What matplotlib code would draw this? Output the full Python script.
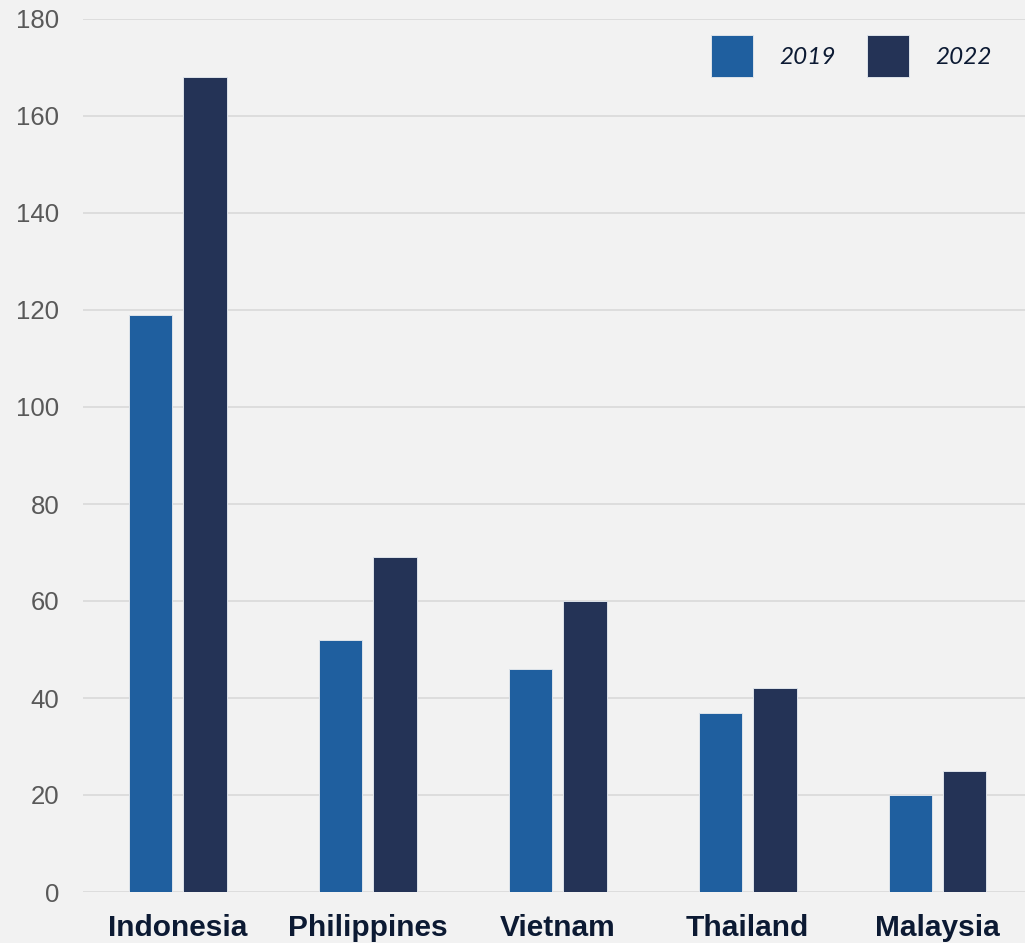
import numpy as np
import matplotlib.pyplot as plt
from matplotlib.patches import Patch

countries = ['Indonesia', 'Philippines', 'Vietnam', 'Thailand', 'Malaysia']
values_2019 = [119, 52, 46, 37, 20]
values_2022 = [168, 69, 60, 42, 25]
years = ['2019', '2022']

c2019 = '#1f5f9f'
c2022 = '#243356'
bg = '#f2f2f2'

fig = plt.figure(figsize=(10.25, 9.43), dpi=100, facecolor=bg)
ax = fig.add_axes([83 / 1025, 1 - 892 / 943, 942 / 1025, 873 / 943], facecolor=bg)

x = np.arange(len(countries))
w = 0.228
ax.bar(x - 0.143, values_2019, w, color=c2019, edgecolor='#dde3ea', linewidth=0.7, zorder=3)
ax.bar(x + 0.143, values_2022, w, color=c2022, edgecolor='#dde3ea', linewidth=0.7, zorder=3)

ax.set_xlim(-0.5, 4.46)
ax.set_ylim(0, 180)
ax.set_yticks(range(0, 181, 20))
ax.grid(axis='y', color='#d9d9d9', linewidth=1.2, zorder=0)
ax.set_axisbelow(True)
for s in ax.spines.values():
    s.set_visible(False)

ax.set_xticks(x)
ax.set_xticklabels(countries, fontsize=21.5, fontweight='bold', color='#0c1a33',
                   family='Liberation Sans')
ax.tick_params(axis='x', length=0, pad=16)
ax.tick_params(axis='y', length=0, pad=17, labelsize=18.5, labelcolor='#595959')
for lbl in ax.get_yticklabels():
    lbl.set_family('Liberation Sans')

handles = [Patch(facecolor=c2019, edgecolor='#dde3ea', linewidth=0.7),
           Patch(facecolor=c2022, edgecolor='#dde3ea', linewidth=0.7)]
leg = ax.legend(handles, years, ncol=2, frameon=False, loc='upper right',
                bbox_to_anchor=((992 - 83) / 942, 1 - 16 / 873),
                borderaxespad=0, borderpad=0,
                prop={'family': 'Lato', 'style': 'italic', 'size': 17.5},
                handlelength=1.7, handleheight=2.3,
                handletextpad=1.1, columnspacing=1.3)
for t in leg.get_texts():
    t.set_color('#0c1a33')

fig.savefig('out.png', dpi=100, facecolor=bg)
